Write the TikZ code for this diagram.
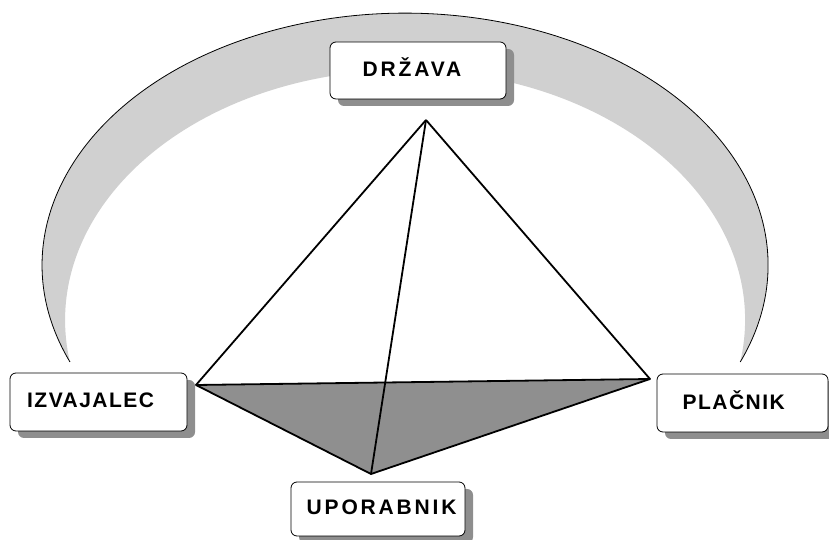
\documentclass[tikz,border=0pt]{standalone}
\usepackage{fontspec}
\setmainfont{Liberation Sans}
\newfontfamily\labwide[LetterSpace=13.5]{Liberation Sans Bold}
\newfontfamily\labnarrow[LetterSpace=7]{Liberation Sans Bold}
\usetikzlibrary{shadows}
\definecolor{arcgray}{HTML}{D0D0D0}
\definecolor{shgray}{HTML}{8E8E8E}
\definecolor{basegray}{HTML}{8F8F8F}
\begin{document}
\begin{tikzpicture}[x=1pt,y=1pt,
  box/.style={draw=black, line width=0.8pt, fill=white, rounded corners=6pt,
    drop shadow={shadow xshift=8pt, shadow yshift=-7pt, fill=shgray, opacity=1}},
  labw/.style={font=\labwide\fontsize{21}{24}\selectfont, inner sep=0pt},
  labn/.style={font=\labnarrow\fontsize{21}{24}\selectfont, inner sep=0pt},
  edge/.style={line width=1.8pt, line join=round}]
\useasboundingbox (0,0) rectangle (829,540);
% crescent
\fill[arcgray] (70,178) arc[start angle=202.6, end angle=-22.6, x radius=363, y radius=252]
  arc[start angle=-9.67, end angle=189.67, x radius=340, y radius=250] -- cycle;
\draw[line width=0.8pt] (70,178) arc[start angle=202.6, end angle=-22.6, x radius=363, y radius=252];
% boxes
\node[box, minimum width=176pt, minimum height=57pt] (drz) at (418,469.5) {};
\node[box, minimum width=177pt, minimum height=58pt] (izv) at (98.5,138) {};
\node[box, minimum width=171pt, minimum height=58pt] (pla) at (742.5,137) {};
\node[box, minimum width=174pt, minimum height=54pt] (upo) at (378,31) {};
\node[labw, anchor=base west] (drzT) at (362.5,463.3) {DRŽAVA};
\node[labn, anchor=base west] (izvT) at (27,132.3) {IZVAJALEC};
\node[labn, anchor=base west] (plaT) at (682.5,130) {PLAČNIK};
\node[labw, anchor=base west] (upoT) at (306.5,25) {UPORABNIK};
% pyramid
\coordinate (T) at (426,420);
\coordinate (L) at (196,155);
\coordinate (R) at (650,161);
\coordinate (B) at (371,66);
\fill[basegray] (L) -- (R) -- (B) -- cycle;
\draw[edge] (L) -- (R) -- (B) -- cycle;
\draw[edge] (T) -- (L);
\draw[edge] (T) -- (R);
\draw[edge] (T) -- (B);
\end{tikzpicture}
\end{document}
